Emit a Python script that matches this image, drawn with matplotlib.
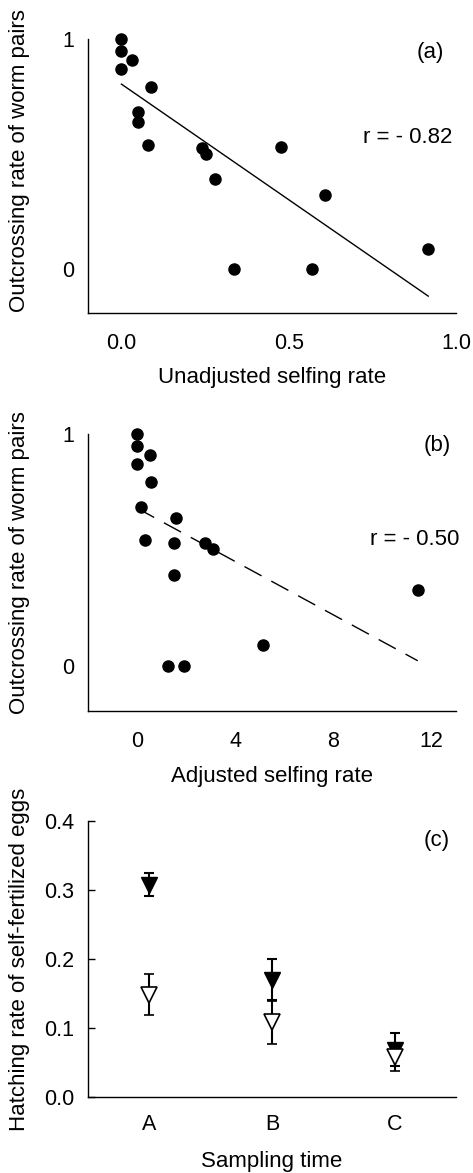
import numpy as np
import matplotlib.pyplot as plt

plt.rcParams['font.family'] = ['Liberation Sans', 'DejaVu Sans']

# (a) unadjusted selfing rate vs outcrossing rate
unadj_x = [0.0, 0.0, 0.033, 0.0, 0.087, 0.048, 0.048, 0.079, 0.24, 0.253, 0.281, 0.477, 0.609, 0.917, 0.337, 0.571]
unadj_y = [1.0, 0.948, 0.909, 0.87, 0.793, 0.684, 0.638, 0.541, 0.527, 0.50, 0.39, 0.529, 0.323, 0.086, 0.0, 0.0]
fit_a = (0.804, -1.004)  # intercept, slope
r_a = "r = - 0.82"

# (b) adjusted selfing rate vs outcrossing rate
adj_x = [0.0, 0.0, 0.52, 0.0, 0.57, 0.18, 1.59, 0.34, 1.51, 2.75, 3.1, 1.51, 11.44, 5.13, 1.25, 1.9]
adj_y = [1.0, 0.951, 0.91, 0.873, 0.795, 0.688, 0.64, 0.544, 0.53, 0.531, 0.506, 0.394, 0.326, 0.091, 0.0, 0.0]
fit_b = (0.681, -0.0576)
r_b = "r = - 0.50"

# (c) hatching rate by sampling time
times = ['A', 'B', 'C']
filled_mean = [0.308, 0.170, 0.068]
filled_err = [0.017, 0.030, 0.024]
open_mean = [0.148, 0.108, 0.057]
open_err = [0.030, 0.031, 0.019]

W, H = 473, 1173
fig = plt.figure(figsize=(W / 100, H / 100), dpi=100)


def box(left, top, right, bottom):
    return [left / W, 1 - bottom / H, (right - left) / W, (bottom - top) / H]


ax_a = fig.add_axes(box(88, 39, 456, 313))
ax_b = fig.add_axes(box(88, 434.3, 456, 711))
ax_c = fig.add_axes(box(88, 821.3, 456, 1096.7))

for ax in (ax_a, ax_b, ax_c):
    ax.spines['top'].set_visible(False)
    ax.spines['right'].set_visible(False)
    ax.spines['left'].set_linewidth(1.0)
    ax.spines['bottom'].set_linewidth(1.0)
    ax.tick_params(labelsize=15.5)
    ax.tick_params(axis='x', length=0, pad=14.5)

# panel (a)
xs = np.array([min(unadj_x), max(unadj_x)])
ax_a.plot(xs, fit_a[0] + fit_a[1] * xs, color='black', lw=1.0)
ax_a.scatter(unadj_x, unadj_y, s=64, color='black', zorder=3, clip_on=False)
ax_a.set_xlim(-0.1, 1.0)
ax_a.set_ylim(-0.19, 1.0)
ax_a.set_xticks([0.0, 0.5, 1.0])
ax_a.set_xticklabels(['0.0', '0.5', '1.0'])
ax_a.set_yticks([0, 1])
ax_a.set_yticklabels(['0', '1'])
ax_a.tick_params(axis='y', length=0, pad=10)
ax_a.set_xlabel('Unadjusted selfing rate', fontsize=16)
ax_a.set_ylabel('Outcrossing rate of worm pairs', fontsize=16)
ax_a.text(0.929, 0.949, '(a)', transform=ax_a.transAxes, fontsize=16, ha='center', va='center')
ax_a.text(0.870, 0.642, r_a, transform=ax_a.transAxes, fontsize=16, ha='center', va='center')

# panel (b)
xs = np.array([min(adj_x), max(adj_x)])
ax_b.plot(xs, fit_b[0] + fit_b[1] * xs, color='black', lw=1.0, linestyle=(0, (14, 8)))
ax_b.scatter(adj_x, adj_y, s=64, color='black', zorder=3, clip_on=False)
ax_b.set_xlim(-2, 13)
ax_b.set_ylim(-0.195, 1.0)
ax_b.set_xticks([0, 4, 8, 12])
ax_b.set_yticks([0, 1])
ax_b.tick_params(axis='y', length=0, pad=10)
ax_b.set_xlabel('Adjusted selfing rate', fontsize=16)
ax_b.set_ylabel('Outcrossing rate of worm pairs', fontsize=16)
ax_b.text(0.948, 0.961, '(b)', transform=ax_b.transAxes, fontsize=16, ha='center', va='center')
ax_b.text(0.889, 0.618, r_b, transform=ax_b.transAxes, fontsize=16, ha='center', va='center')

# panel (c)
pos = np.arange(len(times))
ax_c.errorbar(pos, filled_mean, yerr=filled_err, fmt='v', ms=11, color='black',
              mfc='black', mec='black', ecolor='black', elinewidth=1.5, capsize=3.5,
              capthick=1.5, zorder=3)
ax_c.errorbar(pos, open_mean, yerr=open_err, fmt='v', ms=11, color='black',
              mfc='white', mec='black', mew=1.2, ecolor='black', elinewidth=1.5,
              capsize=3.5, capthick=1.5, zorder=4)
ax_c.set_xlim(-0.5, 2.5)
ax_c.set_ylim(0, 0.4)
ax_c.set_xticks(pos)
ax_c.set_xticklabels(times)
ax_c.set_yticks([0.0, 0.1, 0.2, 0.3, 0.4])
ax_c.set_yticklabels(['0.0', '0.1', '0.2', '0.3', '0.4'])
ax_c.tick_params(axis='y', direction='in', length=5, width=1.0, pad=10)
ax_c.tick_params(axis='x', pad=12.5)
ax_c.set_xlabel('Sampling time', fontsize=16)
ax_c.set_ylabel('Hatching rate of self-fertilized eggs', fontsize=16)
ax_c.text(0.948, 0.932, '(c)', transform=ax_c.transAxes, fontsize=16, ha='center', va='center')

# label placement
for ax, ly, lx in ((ax_a, 0.558, -0.237), (ax_b, 0.538, -0.235), (ax_c, 0.5, -0.236)):
    ax.yaxis.set_label_coords(-0.185, ly)
    ax.yaxis.label.set_verticalalignment('center')
    ax.xaxis.set_label_coords(0.5, lx)
    ax.xaxis.label.set_verticalalignment('center')

fig.savefig('out.png', dpi=100)
